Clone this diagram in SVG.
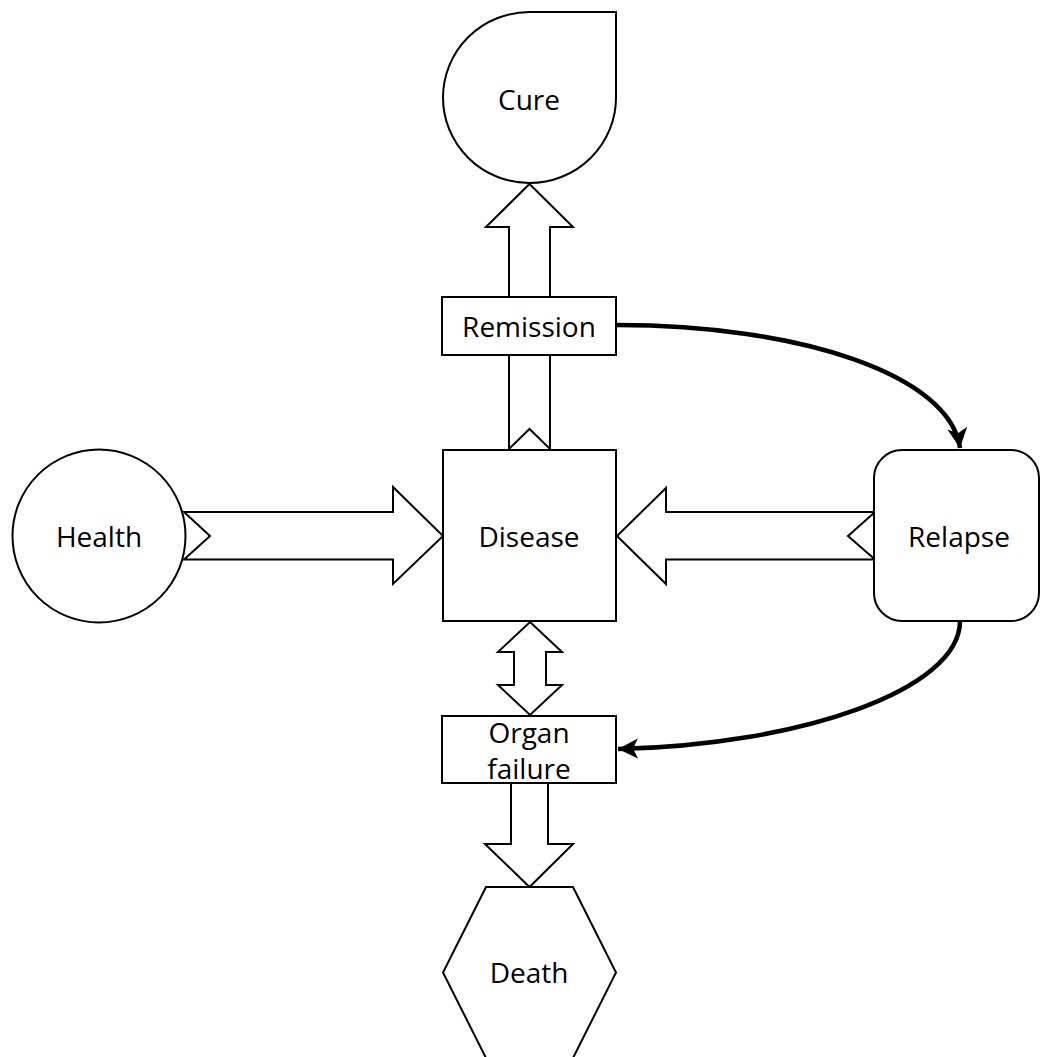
<svg xmlns="http://www.w3.org/2000/svg" width="1040" height="1057" viewBox="0 0 1040 1057">
<style>
.shape{fill:#fff;stroke:#000;stroke-width:2}
.blk{fill:#fff;stroke:#000;stroke-width:2;stroke-linejoin:miter}
.lbl{font-family:"Open Sans","Liberation Sans",sans-serif;font-size:28px;fill:#000;text-anchor:middle;dominant-baseline:central}
.conn{fill:none;stroke:#000;stroke-width:4.5}
</style>
<defs>
<marker id="ah" markerUnits="userSpaceOnUse" markerWidth="24" markerHeight="22" refX="20" refY="10" orient="auto">
<path d="M0,0 L20,10 L0,20 L5,10 Z" fill="#000"/>
</marker>
</defs>
<rect width="1040" height="1057" fill="#fff"/>
<g id="arrow-disease-cure">
<polygon class="blk" points="529.5,184 573,227 550,227 550,449 529.5,429 509,449 509,227 486,227"/>
</g>
<g id="arrow-health-disease">
<polygon class="blk" points="184,512 393,512 393,487 443,536 393,584 393,559.5 184,559.5 210,536"/>
</g>
<g id="arrow-relapse-disease">
<polygon class="blk" points="875,512 666,512 666,488 617,536 666,584 666,559.5 875,559.5 848,536"/>
</g>
<g id="arrow-disease-organ">
<polygon class="blk" points="530,622 562,652 546,652 546,685 562,685 530,715 498,685 514,685 514,652 498,652"/>
</g>
<g id="arrow-organ-death">
<polygon class="blk" points="511,783 548,783 548,844 573,844 529.5,887 485,844 511,844"/>
</g>
<g id="cure">
<path class="shape" d="M529.5,12 L616,12 L616,97.5 A86.5,85.5 0 1 1 529.5,12 Z"/>
<text class="lbl" x="529" y="99">Cure</text>
</g>
<g id="remission">
<rect class="shape" x="442" y="297" width="174" height="58"/>
<text class="lbl" x="529" y="326">Remission</text>
</g>
<g id="health">
<circle class="shape" cx="99" cy="536" r="86.5"/>
<text class="lbl" x="99" y="536">Health</text>
</g>
<g id="disease">
<rect class="shape" x="443" y="450" width="173" height="171"/>
<text class="lbl" x="529" y="536">Disease</text>
</g>
<g id="relapse">
<rect class="shape" x="874" y="450" width="165" height="171" rx="28" ry="28"/>
<text class="lbl" x="959" y="536">Relapse</text>
</g>
<g id="organ-failure">
<rect class="shape" x="442" y="716" width="174" height="67"/>
<text class="lbl" x="529" y="732">Organ</text>
<text class="lbl" x="529" y="768">failure</text>
</g>
<g id="death">
<polygon class="shape" points="486,887 573,887 616,972.5 573,1058 486,1058 443,972.5"/>
<text class="lbl" x="529" y="972">Death</text>
</g>
<g id="connectors">
<path class="conn" d="M617,325 C800,325 950,375 960,448" marker-end="url(#ah)"/>
<path class="conn" d="M960,621 C960,690 800,745 618,749" marker-end="url(#ah)"/>
</g>
</svg>
